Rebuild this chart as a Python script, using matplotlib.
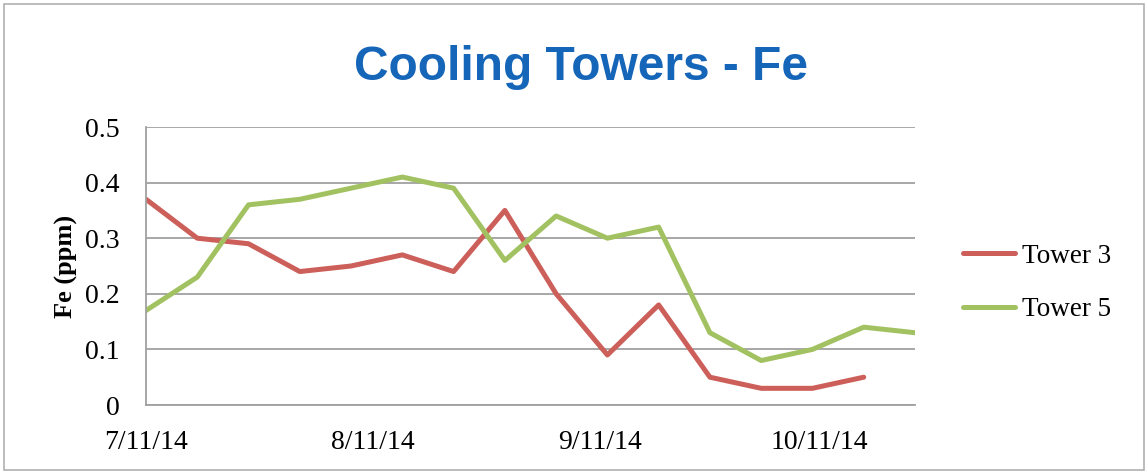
import datetime as dt
import matplotlib.pyplot as plt
from matplotlib.patches import Rectangle

# weekly samples starting 7/11/14
start = dt.date(2014, 7, 11)
dates = [start + dt.timedelta(days=7 * i) for i in range(16)]
tower3 = [0.37, 0.30, 0.29, 0.24, 0.25, 0.27, 0.24, 0.35, 0.20, 0.09,
          0.18, 0.05, 0.03, 0.03, 0.05]
tower5 = [0.17, 0.23, 0.36, 0.37, 0.39, 0.41, 0.39, 0.26, 0.34, 0.30,
          0.32, 0.13, 0.08, 0.10, 0.14, 0.13]
tick_dates = [dt.date(2014, 7, 11), dt.date(2014, 8, 11),
              dt.date(2014, 9, 11), dt.date(2014, 10, 11)]
tick_labels = ['7/11/14', '8/11/14', '9/11/14', '10/11/14']
yticks = [0, 0.1, 0.2, 0.3, 0.4, 0.5]
ytick_labels = ['0', '0.1', '0.2', '0.3', '0.4', '0.5']

W, H = 1148, 473
fig = plt.figure(figsize=(W / 100, H / 100), dpi=100)
ax = fig.add_axes([146 / W, 1 - 405 / H, (915 - 146) / W, (405 - 127) / H])

ax.plot(dates[:len(tower3)], tower3, color='#CD5F5A', lw=3.6, label='Tower 3',
        solid_capstyle='round', solid_joinstyle='round')
ax.plot(dates, tower5, color='#A2C262', lw=3.6, label='Tower 5',
        solid_capstyle='round', solid_joinstyle='round')

ax.set_xlim(dates[0], dates[-1])
ax.set_ylim(0, 0.5)
ax.set_yticks(yticks)
ax.set_yticklabels(ytick_labels)
ax.set_xticks(tick_dates)
ax.set_xticklabels(tick_labels)
ax.tick_params(length=0, labelsize=20)
ax.tick_params(axis='y', pad=19)
ax.tick_params(axis='x', pad=18)
for lab in ax.get_xticklabels() + ax.get_yticklabels():
    lab.set_family('Liberation Serif')
ax.yaxis.grid(True, color='#A0A0A0', lw=1.3)
ax.set_axisbelow(True)
for s in ['top', 'right']:
    ax.spines[s].set_visible(False)
for s in ['left', 'bottom']:
    ax.spines[s].set_color('#A0A0A0')
    ax.spines[s].set_linewidth(1.3)

ax.set_ylabel('Fe (ppm)', family='Liberation Serif', fontweight='bold', fontsize=19)
ax.yaxis.set_label_coords((78 - 146) / 769, 0.5)

fig.text(581 / W, 1 - 80 / H, 'Cooling Towers - Fe', ha='center', va='baseline',
         family='Liberation Sans', fontweight='bold', fontsize=34.5, color='#1565B8')

ax.legend(loc='center left', bbox_to_anchor=(963 / W, 1 - 283 / H),
          bbox_transform=fig.transFigure, frameon=False, borderpad=0,
          borderaxespad=0, prop={'family': 'Liberation Serif', 'size': 19.5},
          handlelength=1.92, handletextpad=0.27, labelspacing=1.05)

fig.patches.append(Rectangle((4 / W, 3 / H), 1140 / W, 466 / H,
                             transform=fig.transFigure, fill=False,
                             edgecolor='#B0B0B0', lw=1.2))

fig.savefig('out.png', dpi=100)
